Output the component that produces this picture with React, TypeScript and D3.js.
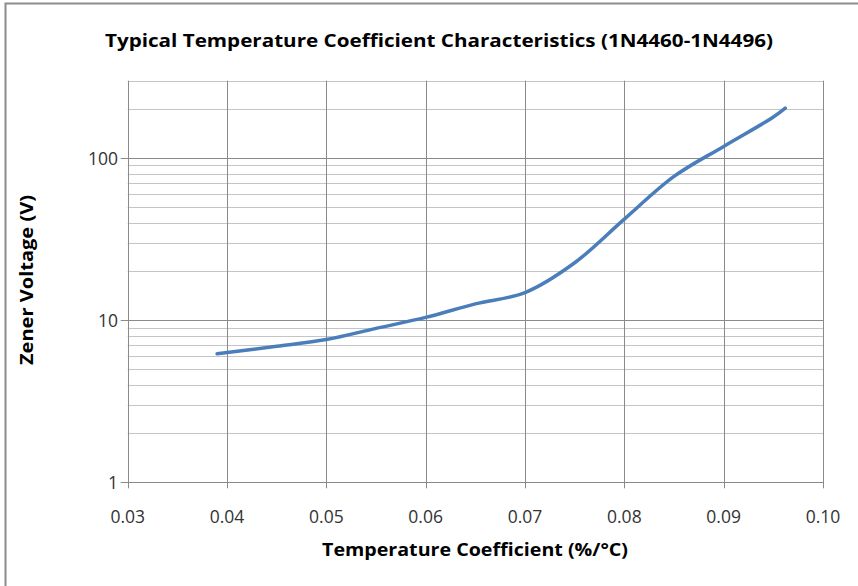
import React, { useRef, useEffect } from "react";
import * as d3 from "d3";

// temperature coefficient (%/°C) vs zener voltage (V)
const tempCoef = [0.039, 0.045, 0.05, 0.055, 0.06, 0.065, 0.07, 0.075, 0.08, 0.085, 0.09, 0.095, 0.0962];
const zenerVolts = [6.2, 6.9, 7.6, 8.9, 10.4, 12.6, 14.8, 22.6, 42, 77, 118, 179, 203];

const xTicks = [0.03, 0.04, 0.05, 0.06, 0.07, 0.08, 0.09, 0.1];
const yMajor = [1, 10, 100];
const yMinor = [2, 3, 4, 5, 6, 7, 8, 9, 20, 30, 40, 50, 60, 70, 80, 90, 200, 300];

export default function App() {
    const ref = useRef<SVGSVGElement | null>(null);

    useEffect(() => {
        const width = 858;
        const height = 586;
        const font = "'Open Sans', 'Liberation Sans', sans-serif";

        d3.select(ref.current).selectAll("*").remove();
        const svg = d3.select(ref.current).attr("width", width).attr("height", height);

        svg.append("rect").attr("width", width).attr("height", height).attr("fill", "#fff");
        // outer chart border (runs off the right/bottom)
        svg.append("rect")
            .attr("x", 5.5).attr("y", 3.5)
            .attr("width", width + 10).attr("height", height + 10)
            .attr("fill", "none").attr("stroke", "#8c8c8c").attr("stroke-width", 2);

        const x = d3.scaleLinear().domain([0.03, 0.1]).range([127.7, 823]);
        const y = d3.scaleLog().domain([1, 300]).range([482.3, 80.7]);

        const grid = svg.append("g");
        grid.selectAll("line.minor")
            .data(yMinor)
            .enter()
            .append("line")
            .attr("x1", x(0.03)).attr("x2", x(0.1))
            .attr("y1", (d) => Math.round(y(d)) + 0.5).attr("y2", (d) => Math.round(y(d)) + 0.5)
            .attr("stroke", "#c4c4c4").attr("stroke-width", 1);
        grid.selectAll("line.major")
            .data(yMajor)
            .enter()
            .append("line")
            .attr("x1", x(0.03) - 7).attr("x2", x(0.1))
            .attr("y1", (d) => Math.round(y(d)) + 0.5).attr("y2", (d) => Math.round(y(d)) + 0.5)
            .attr("stroke", "#8a8a8a").attr("stroke-width", 1);
        grid.selectAll("line.vert")
            .data(xTicks)
            .enter()
            .append("line")
            .attr("x1", (d) => Math.round(x(d)) + 0.5).attr("x2", (d) => Math.round(x(d)) + 0.5)
            .attr("y1", y(300)).attr("y2", y(1) + 6)
            .attr("stroke", "#8a8a8a").attr("stroke-width", 1);

        // x tick labels
        svg.append("g")
            .selectAll("text")
            .data(xTicks)
            .enter()
            .append("text")
            .attr("x", (d) => x(d))
            .attr("y", 523)
            .attr("text-anchor", "middle")
            .attr("font-family", font)
            .attr("font-size", 17.5)
            .attr("fill", "#333")
            .text((d) => d3.format(".2f")(d));

        // y tick labels
        svg.append("g")
            .selectAll("text")
            .data(yMajor)
            .enter()
            .append("text")
            .attr("x", 118)
            .attr("y", (d) => y(d) + 6.5)
            .attr("text-anchor", "end")
            .attr("font-family", font)
            .attr("font-size", 17.5)
            .attr("fill", "#333")
            .text((d) => String(d));

        const line = d3.line<number>()
            .x((_, i) => x(tempCoef[i]))
            .y((d) => y(d))
            .curve(d3.curveCatmullRom.alpha(0.5));

        svg.append("path")
            .datum(zenerVolts)
            .attr("d", line)
            .attr("fill", "none")
            .attr("stroke", "#4a7ebb")
            .attr("stroke-width", 3.5)
            .attr("stroke-linecap", "round");

        svg.append("text")
            .attr("x", 439).attr("y", 47)
            .attr("text-anchor", "middle")
            .attr("font-family", font)
            .attr("font-weight", "bold")
            .attr("font-size", 18)
            .attr("textLength", 668)
            .attr("lengthAdjust", "spacingAndGlyphs")
            .text("Typical Temperature Coefficient Characteristics (1N4460-1N4496)");

        svg.append("text")
            .attr("x", 475).attr("y", 556)
            .attr("text-anchor", "middle")
            .attr("font-family", font)
            .attr("font-weight", "bold")
            .attr("font-size", 17)
            .attr("textLength", 306)
            .attr("lengthAdjust", "spacingAndGlyphs")
            .text("Temperature Coefficient (%/°C)");

        svg.append("text")
            .attr("transform", "translate(33,280) rotate(-90)")
            .attr("text-anchor", "middle")
            .attr("font-family", font)
            .attr("font-weight", "bold")
            .attr("font-size", 17)
            .attr("textLength", 170)
            .attr("lengthAdjust", "spacingAndGlyphs")
            .text("Zener Voltage (V)");
    }, []);

    return (
        <div style={{ position: "absolute", left: 0, top: 0 }}>
            <svg ref={ref}></svg>
        </div>
    );
}
